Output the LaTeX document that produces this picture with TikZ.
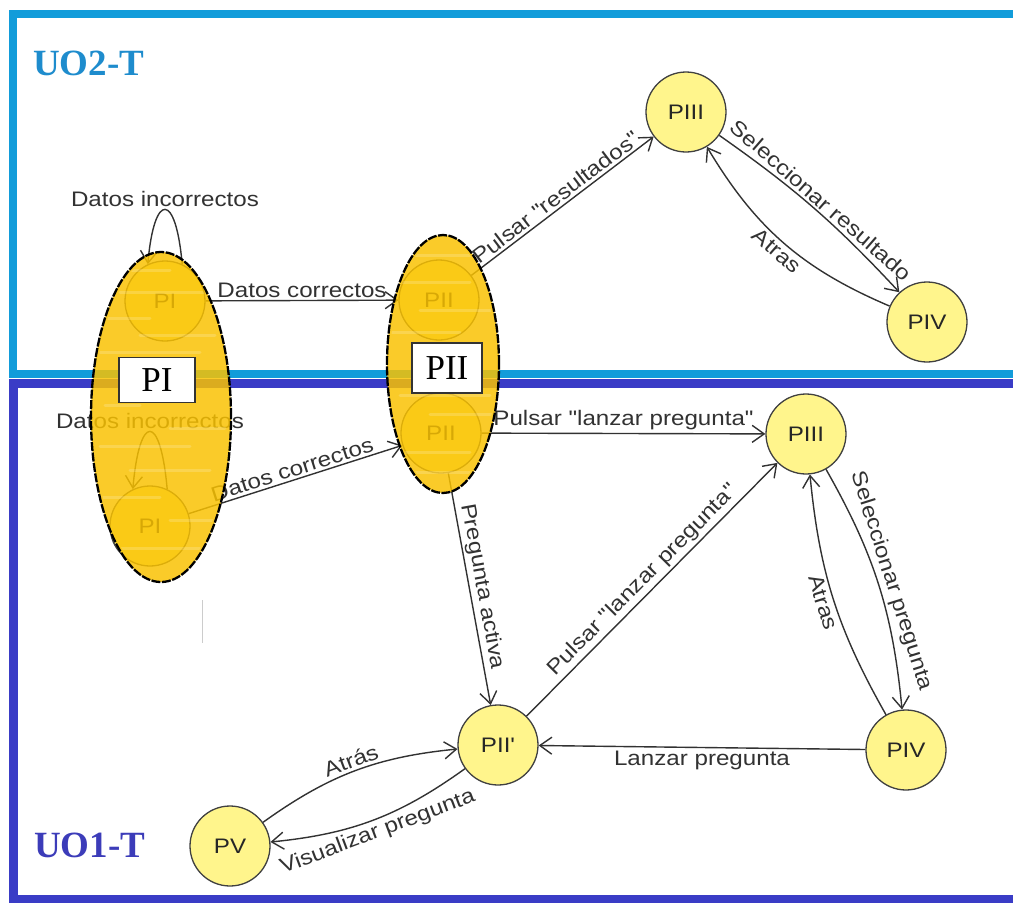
\documentclass[tikz,border=0pt]{standalone}
\usepackage{fontspec}
\usetikzlibrary{arrows.meta,shapes.geometric}
\newfontfamily\lblfont[FakeStretch=1.15]{Liberation Sans}
\newfontfamily\serfont{Liberation Serif}
\definecolor{frameA}{RGB}{18,156,218}
\definecolor{frameB}{RGB}{58,60,198}
\definecolor{titleA}{RGB}{30,140,205}
\definecolor{titleB}{RGB}{60,60,185}
\definecolor{stateyellow}{RGB}{255,245,140}
\definecolor{groupgold}{RGB}{250,194,0}
\definecolor{edgegray}{RGB}{50,50,50}
\begin{document}
\begin{tikzpicture}[x=1pt,y=1pt,
  state/.style={circle, minimum size=80pt, inner sep=0pt, draw=black!75,
    line width=1.3pt, fill=stateyellow, text=black!85,
    font=\lblfont\fontsize{21}{24}\selectfont},
  group/.style={ellipse, inner sep=0pt, fill=groupgold, fill opacity=0.84,
    draw=black, draw opacity=1, line width=2.3pt, dash pattern=on 9pt off 1.5pt},
  groupbox/.style={draw=black!80, line width=1.5pt, fill=white, inner sep=0pt,
    font=\serfont\fontsize{35}{36}\selectfont},
  arr/.style={draw=edgegray, line width=1.4pt,
    -{Straight Barb[length=12pt,width=17pt]}},
  lbl/.style={font=\lblfont\fontsize{21}{24}\selectfont, text=edgegray, inner sep=2.5pt},
  title/.style={font=\serfont\bfseries\fontsize{37}{40}\selectfont, anchor=base west, inner sep=0pt},
  streak/.style={white, line width=3pt, opacity=0.18, line cap=round}
]
\useasboundingbox (0,0) rectangle (1013,-903);
\fill[white] (0,0) rectangle (1013,-903);

% frames of the two units, open on the right
\draw[frameA, line width=8pt, line join=miter] (1013,-14) -- (13,-14) -- (13,-374) -- (1013,-374);
\draw[frameB, line width=9pt, line join=miter] (1013,-383) -- (13,-383) -- (13,-899) -- (1013,-899);
\node[title, text=titleA] (uo2) at (33,-75) {UO2-T};
\node[title, text=titleB] (uo1) at (34,-857) {UO1-T};

% states lying under the grouping ellipses
\node[state] (piA)  at (165,-301) {PI};
\node[state] (piiA) at (439,-300) {PII};
\node[state] (piB)  at (150,-526) {PI};
\node[state] (piiB) at (441,-433) {PII};

% visible states
\node[state] (p3a) at (686,-112) {PIII};
\node[state] (p4a) at (927,-322) {PIV};
\node[state] (p3b) at (806,-434) {PIII};
\node[state] (p4b) at (906,-750) {PIV};
\node[state] (p2p) at (498,-745) {PII'};
\node[state] (p5)  at (230,-846) {PV};

% UO2-T transitions
\draw[arr] (piA.65) to[out=95,in=85,distance=73pt]
  node[lbl, above] {Datos incorrectos} (piA.115);
\draw[arr] (piA) -- node[lbl, above] {Datos correctos} (piiA);
\draw[arr] (piiA) -- node[lbl, above, sloped] {Pulsar "resultados"} (p3a);
\draw[arr] (p3a) to[bend left=6] node[lbl, above, sloped] {Seleccionar resultado} (p4a);
\draw[arr] (p4a) to[bend left=18] node[lbl, below, sloped] {Atras} (p3a);

% UO1-T transitions
\draw[arr] (piB.65) to[out=95,in=85,distance=77pt]
  node[lbl, above] {Datos incorrectos} (piB.115);
\draw[arr] (piB) -- node[lbl, above, sloped] {Datos correctos} (piiB);
\draw[arr] (piiB) -- node[lbl, above] {Pulsar "lanzar pregunta"} (p3b);
\draw[arr] (piiB) -- node[lbl, above, sloped] {Pregunta activa} (p2p);
\draw[arr] (p2p) -- node[lbl, above, sloped] {Pulsar "lanzar pregunta"} (p3b);
\draw[arr] (p3b) to[bend left=12] node[lbl, above, sloped] {Seleccionar pregunta} (p4b);
\draw[arr] (p4b) to[bend left=12] node[lbl, below, sloped] {Atras} (p3b);
\draw[arr] (p4b) -- node[lbl, below] {Lanzar pregunta} (p2p);
\draw[arr] (p5) to[bend left=15] node[lbl, above, sloped] {Atrás} (p2p);
\draw[arr] (p2p) to[bend left=15] node[lbl, below, sloped] {Visualizar pregunta} (p5);

% grouping ellipses laid over both units
\node[group, minimum width=140pt, minimum height=330pt] (gPI)  at (161,-417) {};
\node[group, minimum width=112pt, minimum height=258pt] (gPII) at (443,-364) {};

% light brush streaks inside the ellipses
\begin{scope}
  \clip (161,-417) ellipse [x radius=67pt, y radius=162pt];
  \foreach \y/\a/\b in {-270/110/170,-292/120/220,-318/95/150,-335/140/215,-352/100/200,
      -405/105/140,-428/170/225,-446/100/190,-470/130/210,-497/100/160,-520/170/220,-548/110/200}
    \draw[streak] (\a,\y) -- (\b,\y);
\end{scope}
\begin{scope}
  \clip (443,-364) ellipse [x radius=53pt, y radius=126pt];
  \foreach \y/\a/\b in {-255/400/480,-282/395/470,-310/420/495,-332/390/460,
      -395/400/490,-414/430/495,-452/392/470,-472/410/480}
    \draw[streak] (\a,\y) -- (\b,\y);
\end{scope}

\node[groupbox, minimum width=76pt, minimum height=45pt] (bPI)  at (157,-380) {PI};
\node[groupbox, minimum width=70pt, minimum height=50pt] (bPII) at (447,-368) {PII};

% faint stray tick below the PI group
\draw[black!20, line width=1pt] (202,-600) -- (202,-643);
\end{tikzpicture}
\end{document}
